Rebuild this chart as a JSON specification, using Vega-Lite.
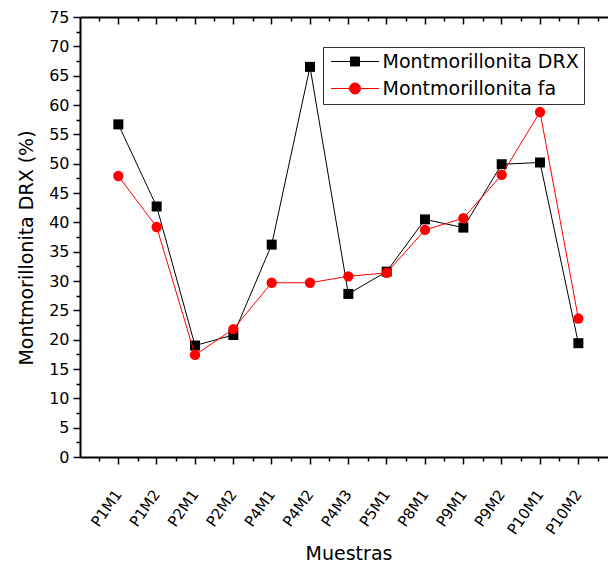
{
  "$schema": "https://vega.github.io/schema/vega-lite/v6.json",
  "width": 527,
  "height": 440,
  "autosize": {"type": "none"},
  "padding": {"left": 80, "top": 17, "right": 1, "bottom": 106},
  "background": "white",
  "data": {
    "values": [
      {"muestra": "P1M1", "serie": "Montmorillonita DRX", "valor": 56.7},
      {"muestra": "P1M2", "serie": "Montmorillonita DRX", "valor": 42.7},
      {"muestra": "P2M1", "serie": "Montmorillonita DRX", "valor": 19.0},
      {"muestra": "P2M2", "serie": "Montmorillonita DRX", "valor": 20.8},
      {"muestra": "P4M1", "serie": "Montmorillonita DRX", "valor": 36.2},
      {"muestra": "P4M2", "serie": "Montmorillonita DRX", "valor": 66.5},
      {"muestra": "P4M3", "serie": "Montmorillonita DRX", "valor": 27.8},
      {"muestra": "P5M1", "serie": "Montmorillonita DRX", "valor": 31.6},
      {"muestra": "P8M1", "serie": "Montmorillonita DRX", "valor": 40.5},
      {"muestra": "P9M1", "serie": "Montmorillonita DRX", "valor": 39.1},
      {"muestra": "P9M2", "serie": "Montmorillonita DRX", "valor": 49.9},
      {"muestra": "P10M1", "serie": "Montmorillonita DRX", "valor": 50.2},
      {"muestra": "P10M2", "serie": "Montmorillonita DRX", "valor": 19.4},
      {"muestra": "P1M1", "serie": "Montmorillonita fa", "valor": 47.9},
      {"muestra": "P1M2", "serie": "Montmorillonita fa", "valor": 39.2},
      {"muestra": "P2M1", "serie": "Montmorillonita fa", "valor": 17.4},
      {"muestra": "P2M2", "serie": "Montmorillonita fa", "valor": 21.8},
      {"muestra": "P4M1", "serie": "Montmorillonita fa", "valor": 29.7},
      {"muestra": "P4M2", "serie": "Montmorillonita fa", "valor": 29.7},
      {"muestra": "P4M3", "serie": "Montmorillonita fa", "valor": 30.8},
      {"muestra": "P5M1", "serie": "Montmorillonita fa", "valor": 31.4},
      {"muestra": "P8M1", "serie": "Montmorillonita fa", "valor": 38.7},
      {"muestra": "P9M1", "serie": "Montmorillonita fa", "valor": 40.7},
      {"muestra": "P9M2", "serie": "Montmorillonita fa", "valor": 48.1},
      {"muestra": "P10M1", "serie": "Montmorillonita fa", "valor": 58.8},
      {"muestra": "P10M2", "serie": "Montmorillonita fa", "valor": 23.6}
    ]
  },
  "layer": [
    {
      "transform": [{"filter": "datum.serie === 'Montmorillonita DRX'"}],
      "mark": {"type": "line", "strokeWidth": 1},
      "encoding": {
        "x": {
          "field": "muestra", "type": "nominal", "sort": null,
          "scale": {"type": "band", "range": [0, 536.7], "paddingInner": 0, "paddingOuter": 0.5},
          "axis": {
            "orient": "bottom", "title": "Muestras", "tickBand": "center",
            "tickSize": 7, "tickWidth": 1.5, "domainWidth": 2,
            "labelAngle": -55, "labelAlign": "right", "labelBaseline": "middle",
            "labelFontSize": 15, "labelPadding": 27, "labelOverlap": false, "labelBound": false,
            "titleFontSize": 19, "titleX": 268.5, "titleY": 102, "titleBaseline": "alphabetic", "titleAlign": "center"
          }
        },
        "y": {
          "field": "valor", "type": "quantitative",
          "scale": {"domain": [0, 75], "nice": false, "zero": true},
          "axis": {
            "orient": "left", "values": [0, 5, 10, 15, 20, 25, 30, 35, 40, 45, 50, 55, 60, 65, 70, 75],
            "title": "Montmorillonita DRX (%)", "tickSize": 7, "tickWidth": 1.5, "domainWidth": 2,
            "labelFontSize": 16, "labelPadding": 4, "labelOverlap": false,
            "titleFontSize": 19, "titleX": -44, "titleY": 230.5, "titleAlign": "center"
          }
        },
        "color": {
          "field": "serie", "type": "nominal",
          "scale": {"domain": ["Montmorillonita DRX", "Montmorillonita fa"], "range": ["#000000", "#ff0000"]},
          "legend": {
            "orient": "none", "legendX": 243, "legendY": 30, "title": null,
            "padding": 5, "rowPadding": 7, "fillColor": "white", "strokeColor": "#333333",
            "labelFont": "DejaVu Sans", "labelFontSize": 19, "labelLimit": 400, "labelColor": "black",
            "symbolSize": 144, "symbolOffset": 17.5, "labelOffset": 18, "symbolStrokeWidth": 1,
            "encoding": {
              "symbols": {
                "shape": {
                  "condition": {"test": "datum.value === 'Montmorillonita DRX'", "value": "M-4,0H4M-0.75,-0.75H0.75V0.75H-0.75Z"},
                  "value": "M-4,0H4M0.92,0A0.92,0.92,0,1,1,-0.92,0A0.92,0.92,0,1,1,0.92,0Z"
                },
                "fill": {
                  "condition": {"test": "datum.value === 'Montmorillonita DRX'", "value": "#000000"},
                  "value": "#ff0000"
                },
                "stroke": {
                  "condition": {"test": "datum.value === 'Montmorillonita DRX'", "value": "#000000"},
                  "value": "#ff0000"
                },
                "strokeWidth": {"value": 1},
                "opacity": {"value": 1}
              }
            }
          }
        }
      }
    },
    {
      "transform": [{"filter": "datum.serie === 'Montmorillonita DRX'"}],
      "mark": {"type": "point", "shape": "square", "filled": true, "size": 100, "color": "#000000", "opacity": 1},
      "encoding": {
        "x": {
          "field": "muestra", "type": "nominal", "sort": null,
          "axis": {"orient": "bottom", "tickBand": "extent", "tickSize": 4, "tickWidth": 1.5, "labels": false, "domain": false, "title": null}
        },
        "y": {
          "field": "valor", "type": "quantitative",
          "axis": {
            "orient": "left", "values": [2.5, 7.5, 12.5, 17.5, 22.5, 27.5, 32.5, 37.5, 42.5, 47.5, 52.5, 57.5, 62.5, 67.5, 72.5],
            "tickSize": 4, "tickWidth": 1.5, "labels": false, "domain": false, "title": null
          }
        }
      }
    },
    {
      "transform": [{"filter": "datum.serie === 'Montmorillonita fa'"}],
      "mark": {"type": "line", "strokeWidth": 1},
      "encoding": {
        "x": {
          "field": "muestra", "type": "nominal", "sort": null,
          "axis": {"orient": "top", "tickBand": "center", "tickSize": -7, "tickWidth": 1.5, "domainWidth": 2, "labels": false, "title": null}
        },
        "y": {"field": "valor", "type": "quantitative", "axis": null},
        "color": {"field": "serie", "type": "nominal"}
      }
    },
    {
      "transform": [{"filter": "datum.serie === 'Montmorillonita fa'"}],
      "mark": {"type": "point", "shape": "circle", "filled": true, "size": 107, "color": "#ff0000", "opacity": 1},
      "encoding": {
        "x": {
          "field": "muestra", "type": "nominal", "sort": null,
          "axis": {"orient": "top", "tickBand": "extent", "tickSize": -4, "tickWidth": 1.5, "labels": false, "domain": false, "title": null}
        },
        "y": {"field": "valor", "type": "quantitative", "axis": null}
      }
    }
  ],
  "resolve": {"axis": {"x": "independent", "y": "independent"}},
  "config": {
    "view": {"stroke": null},
    "font": "DejaVu Sans",
    "axis": {
      "domainColor": "#000000", "tickColor": "#000000", "labelColor": "#000000", "titleColor": "#000000",
      "grid": false, "titleFontWeight": "normal", "labelFont": "DejaVu Sans", "titleFont": "DejaVu Sans"
    }
  }
}
